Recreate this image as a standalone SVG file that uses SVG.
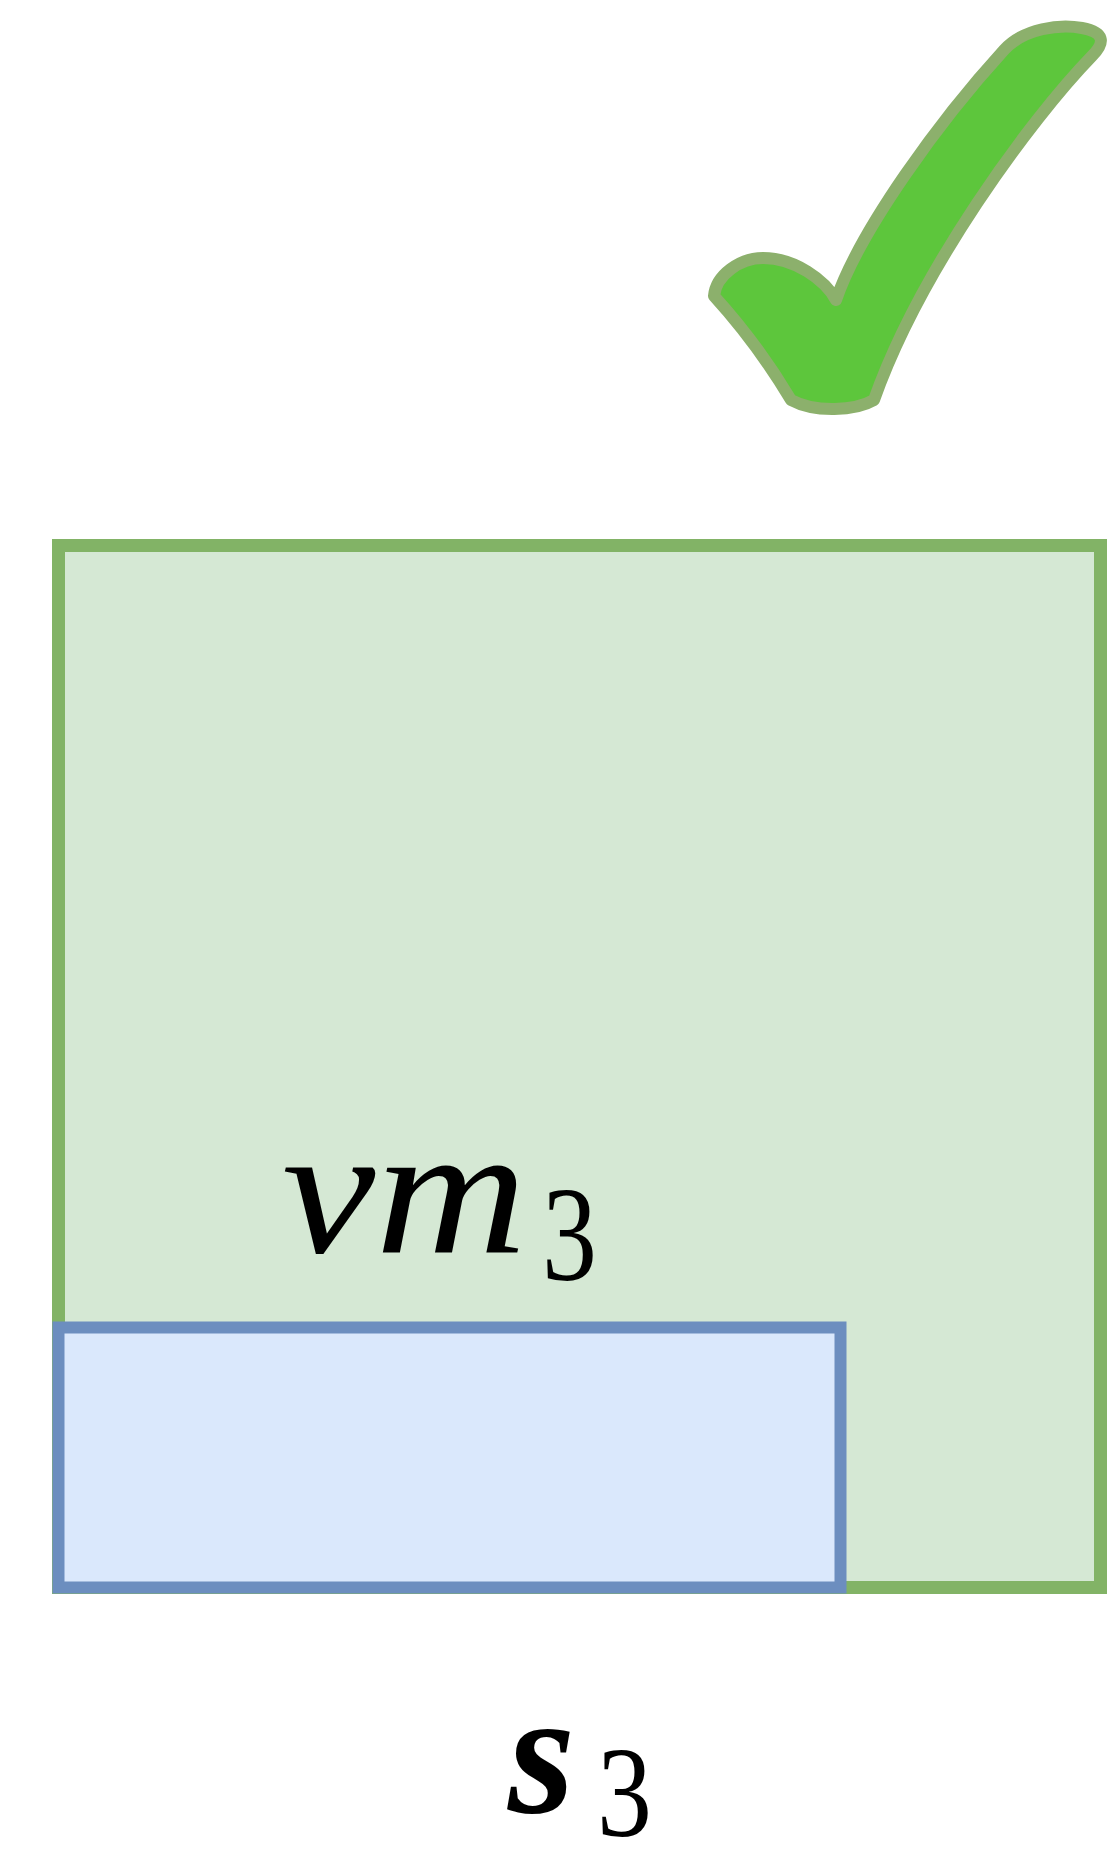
<svg xmlns="http://www.w3.org/2000/svg" width="1107" height="1856" viewBox="0 0 1107 1856">
<style>
.math{font-family:"Liberation Serif","Times New Roman",serif;fill:#000}
.it{font-style:italic}
.bd{font-weight:bold}
</style>
<rect width="1107" height="1856" fill="#ffffff"/>
<g id="check">
<path d="M 836 300 C 860 230, 940 120, 1004 50 C 1024 28, 1060 24, 1082 28 C 1104 32, 1106 42, 1092 56 C 1030 120, 920 270, 874 400 C 855 411, 815 413, 791 400 C 770 365, 745 330, 714 296 C 716 275, 740 258, 763 258 C 795 258, 825 280, 836 300 Z" fill="#5dc63c" stroke="#8cb06c" stroke-width="12" stroke-linejoin="round"/>
</g>
<g id="vm3">
<rect x="58.5" y="545.5" width="1042" height="1042" fill="#d5e8d4" stroke="#82b366" stroke-width="13"/>
<text class="math it" font-family="Liberation Serif" x="282" y="1252" font-size="185" textLength="245" lengthAdjust="spacingAndGlyphs">vm</text>
<text class="math" font-family="Liberation Serif" x="542" y="1280" font-size="135" textLength="55" lengthAdjust="spacingAndGlyphs">3</text>
</g>
<g id="block">
<rect x="58.5" y="1327.5" width="782" height="260" fill="#dae8fc" stroke="#6c8ebf" stroke-width="12"/>
</g>
<g id="s3">
<text class="math it bd" font-family="Liberation Serif" x="508" y="1812" font-size="175" textLength="67" lengthAdjust="spacingAndGlyphs">s</text>
<text class="math" font-family="Liberation Serif" x="597" y="1836" font-size="130" textLength="55" lengthAdjust="spacingAndGlyphs">3</text>
</g>
<g id="connectors"/>
</svg>
